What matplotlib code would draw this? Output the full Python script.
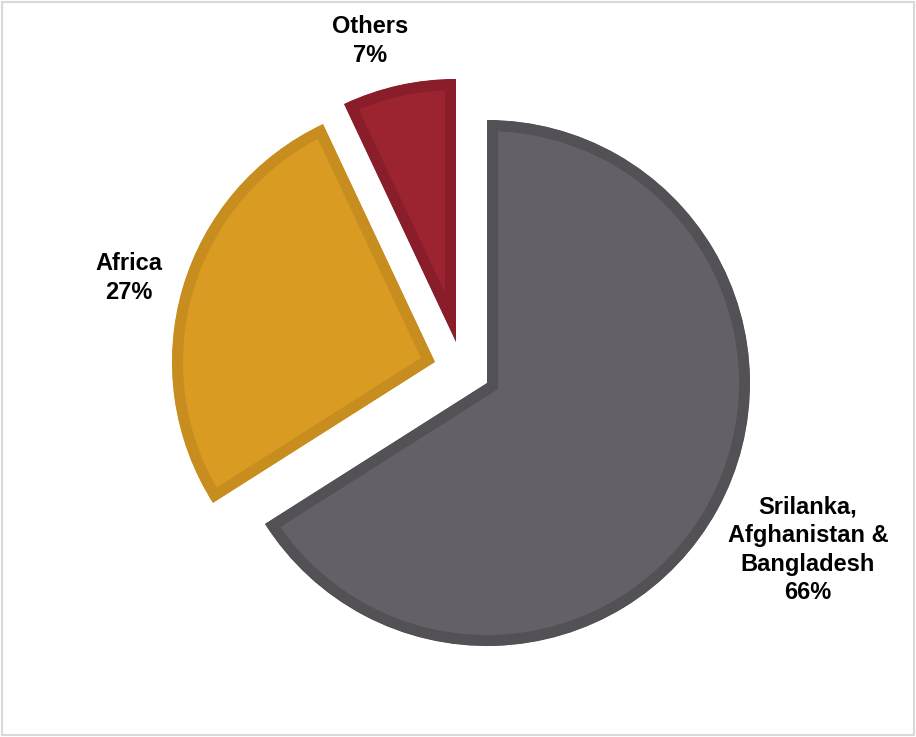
import matplotlib.pyplot as plt
from matplotlib.patches import Rectangle

W, H = 916, 737

labels = ["Srilanka,\nAfghanistan &\nBangladesh", "Africa", "Others"]
shares = [66, 27, 7]
fills = ["#636167", "#DA9B23", "#9C2330"]
edges = ["#535156", "#C78D1F", "#891D2A"]

# pixel layout (y measured from top of the picture)
centre = (487, 383)
radius = 263
shifts = [(0, 0), (-52, -21), (-31, -41)]
label_pos = [(808, 550), (129, 278), (370, 41)]

plt.rcParams['font.family'] = ['Liberation Sans Narrow', 'Liberation Sans', 'DejaVu Sans']

fig = plt.figure(figsize=(W / 100, H / 100), dpi=100)
ax = fig.add_axes([0, 0, 1, 1])

cx, cy = centre[0], H - centre[1]
wedges, _ = ax.pie(shares, colors=fills, startangle=90, counterclock=False,
                   radius=radius, center=(cx, cy),
                   wedgeprops=dict(edgecolor="none"))

# border drawn twice as wide and clipped to the slice, so it sits inside
for w, ec, (dx, dy) in zip(wedges, edges, shifts):
    w.set_center((cx + dx, cy - dy))
    w.set_edgecolor(ec)
    w.set_linewidth(22 * 72 / 100)
    w.set_joinstyle("miter")
    w.set_clip_on(True)
    w.set_clip_path(w)

for lab, share, (px, py) in zip(labels, shares, label_pos):
    ax.text(px, H - py, f"{lab}\n{share}%", ha="center", va="center",
            multialignment="center", fontsize=17, fontweight="bold",
            linespacing=1.3, color="black")

ax.set_xlim(0, W)
ax.set_ylim(0, H)
ax.set_aspect("auto")
ax.axis("off")

fig.patches.append(Rectangle((2, 2), W - 4, H - 4, transform=None,
                             fill=False, edgecolor="#D9D9D9", linewidth=1.5))

fig.savefig("out.png", dpi=100)
